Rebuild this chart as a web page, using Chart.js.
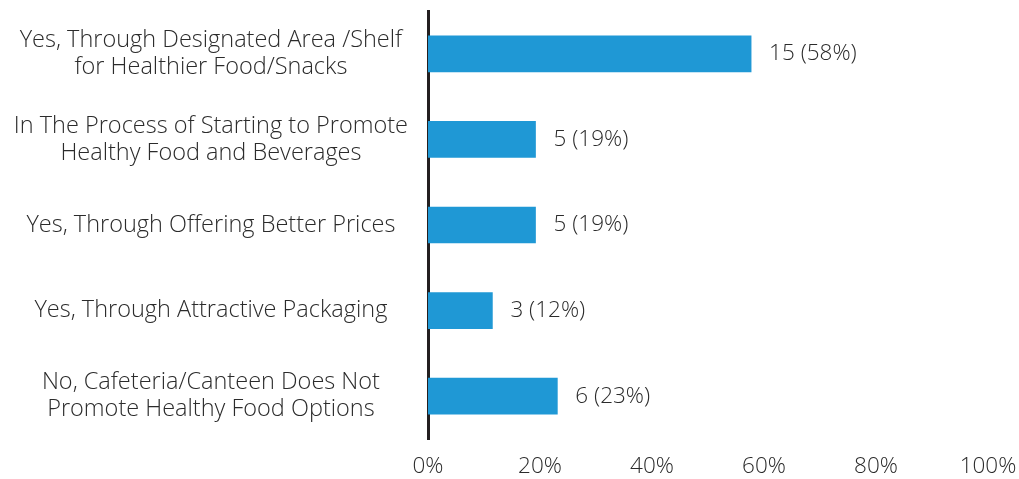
<!DOCTYPE html>
<html>
<head>
<meta charset="utf-8">
<script src="https://cdn.jsdelivr.net/npm/chart.js@4/dist/chart.umd.min.js"></script>
<style>
  html, body { margin: 0; padding: 0; background: #fff; }
  #wrap { width: 1019px; height: 479px; position: relative; }
</style>
</head>
<body>
<div id="wrap"><canvas id="chart"></canvas></div>
<script>
const categories = [
    ['Yes, Through Designated Area /Shelf', 'for Healthier Food/Snacks'],
    ['In The Process of Starting to Promote', 'Healthy Food and Beverages'],
    'Yes, Through Offering Better Prices',
    'Yes, Through Attractive Packaging',
    ['No, Cafeteria/Canteen Does Not', 'Promote Healthy Food Options']
];
const counts = [15, 5, 5, 3, 6];
const percents = [57.7, 19.2, 19.2, 11.5, 23.1];
const xTicks = [0, 20, 40, 60, 80, 100];

const TEXT_COLOR = '#2b2b2b';
const FONT = '"Open Sans", Lato, sans-serif';

// value labels "15 (58%)" to the right of each bar
const valueLabels = {
    id: 'valueLabels',
    afterDatasetsDraw(chart) {
        const ctx = chart.ctx;
        const meta = chart.getDatasetMeta(0);
        ctx.save();
        ctx.font = '300 22.5px ' + FONT;
        ctx.fillStyle = TEXT_COLOR;
        ctx.textAlign = 'left';
        ctx.textBaseline = 'middle';
        meta.data.forEach((bar, i) => {
            ctx.fillText(`${counts[i]} (${Math.round(percents[i])}%)`, bar.x + 18, bar.y);
        });
        ctx.restore();
    }
};

new Chart(document.getElementById('chart'), {
    type: 'bar',
    data: {
        labels: categories,
        datasets: [{
            data: percents,
            backgroundColor: '#1f98d5',
            barThickness: 36
        }]
    },
    options: {
        indexAxis: 'y',
        responsive: true,
        maintainAspectRatio: false,
        animation: false,
        layout: { padding: { top: 11, right: 31, left: 0, bottom: 0 } },
        plugins: {
            legend: { display: false },
            tooltip: { enabled: false }
        },
        scales: {
            x: {
                min: 0,
                max: 100,
                afterBuildTicks: s => { s.ticks = xTicks.map(v => ({ value: v })); },
                grid: { display: false, drawTicks: false },
                border: { display: false },
                ticks: {
                    color: TEXT_COLOR,
                    font: { family: FONT, size: 22.5, weight: 300, lineHeight: 1 },
                    padding: 16,
                    callback: v => v + '%'
                },
                afterFit: s => {
                    s.height = 40;
                    s.paddingLeft = 0;
                    s.paddingRight = 0;
                }
            },
            y: {
                grid: { display: false, drawTicks: false },
                border: { display: true, color: '#231f20', width: 3 },
                ticks: {
                    color: TEXT_COLOR,
                    font: { family: FONT, size: 23.5, weight: 300, lineHeight: 1.15 },
                    crossAlign: 'center',
                    padding: 20
                },
                afterFit: s => {
                    s.width = 428;
                    s.paddingTop = 0;
                    s.paddingBottom = 0;
                }
            }
        }
    },
    plugins: [valueLabels]
});
</script>
</body>
</html>
